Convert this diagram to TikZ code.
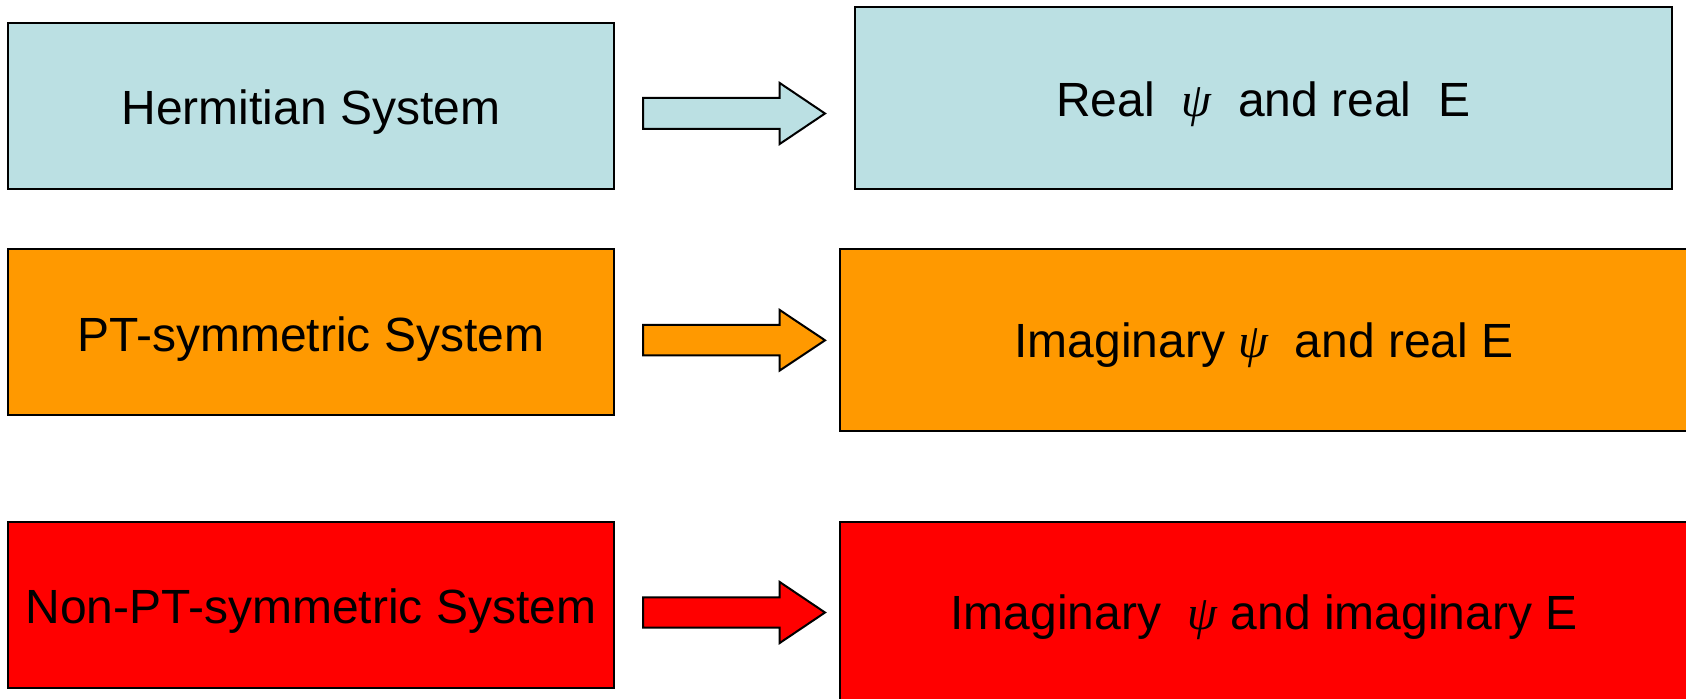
\documentclass[tikz,border=0pt]{standalone}
\usepackage{fontspec}
\setmainfont{Liberation Sans}
\newfontfamily\psifont{Liberation Serif}
\usetikzlibrary{fit}
\definecolor{lblue}{HTML}{BBE0E3}
\definecolor{orng}{HTML}{FF9900}
\definecolor{rred}{HTML}{FF0000}
\tikzset{
  box/.style={draw=black, line width=1pt, inner sep=0pt, rectangle},
  boxtext/.style={inner sep=0pt, font=\fontsize{24}{28}\selectfont},
  blockarrow/.style={draw=black, line width=1pt, line join=miter},
}
\newcommand{\mypsi}{{\psifont\itshape ψ}}
\begin{document}
\begin{tikzpicture}[x=0.5pt,y=-0.5pt]
\useasboundingbox (0,0) rectangle (1686,699);
\clip (0,0) rectangle (1686,699);
% row 1
\node[box, fill=lblue, fit={(8,23)(613.7,189)}] (h) {};
\node[boxtext] (ht) at ([yshift=-3pt]h.center) {Hermitian System};
\node[box, fill=lblue, fit={(855,7.5)(1671.5,189)}] (hr) {};
\node[boxtext] (hrt) at ([yshift=-3pt]hr.center) {Real \ \mypsi\ \ and real \ E};
\draw[blockarrow, fill=lblue] (643,98) -- (779.7,98) -- (779.7,83) -- (825,113.5) -- (779.7,144) -- (779.7,129) -- (643,129) -- cycle;
% row 2
\node[box, fill=orng, fit={(8,249)(613.7,415.5)}] (p) {};
\node[boxtext] (pt) at ([yshift=-3.5pt]p.center) {PT-symmetric System};
\node[box, fill=orng, fit={(840,249)(1688,431)}] (pr) {};
\node[boxtext] (prt) at ([yshift=-2.5pt]pr.center) {Imaginary \mypsi\ \ and real E};
\draw[blockarrow, fill=orng] (643,325) -- (779.7,325) -- (779.7,310) -- (825,340.3) -- (779.7,370.5) -- (779.7,355.5) -- (643,355.5) -- cycle;
% row 3
\node[box, fill=rred, fit={(8,522)(613.7,688)}] (n) {};
\node[boxtext] (nt) at ([yshift=-3pt]n.center) {Non-PT-symmetric System};
\node[box, fill=rred, fit={(840,522)(1688,706)}] (nr) {};
\node[boxtext] (nrt) at ([yshift=-1.5pt]nr.center) {Imaginary \ \mypsi\ and imaginary E};
\draw[blockarrow, fill=rred] (643,597.3) -- (779.7,597.3) -- (779.7,582) -- (825,612.5) -- (779.7,643) -- (779.7,627.7) -- (643,627.7) -- cycle;
\end{tikzpicture}
\end{document}
